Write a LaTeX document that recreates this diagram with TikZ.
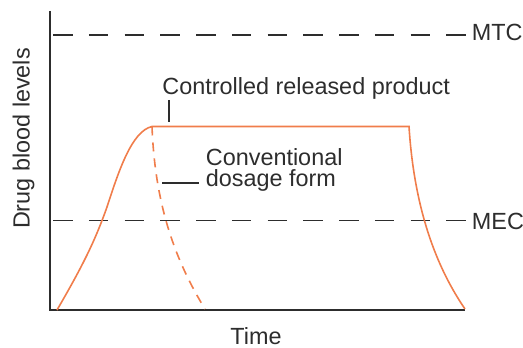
\documentclass[tikz,border=0pt]{standalone}
\usepackage{fontspec}
\setmainfont{Liberation Sans}
\definecolor{curveorange}{RGB}{240,125,75}
\definecolor{axisgray}{RGB}{45,45,45}

\begin{document}
\begin{tikzpicture}[x=0.5pt, y=-0.5pt,
    lbl/.style={inner sep=0pt, text=axisgray, font=\fontsize{11.7}{14}\selectfont},
    level/.style={axisgray, line width=0.75pt, dash pattern=on 9.75pt off 8.125pt},
    release/.style={curveorange, line width=0.8pt},
    leader/.style={axisgray, line width=0.75pt}]
    \useasboundingbox (0,0) rectangle (523,347);

    % Axes
    \draw[axisgray, line width=1pt] (49.5,11) -- (49.5,309.5) -- (465,309.5);
    \node[lbl, anchor=base, rotate=90] (ylab) at (29.5,138.5) {Drug blood levels};
    \node[lbl, anchor=base] (time) at (256,344) {Time};

    % Concentration limits
    \node[lbl, anchor=base west] (mtc) at (471.5,41) {MTC};
    \node[lbl, anchor=base west] (mec) at (471.5,229.5) {MEC};
    \coordinate (mtcstart) at (53,35);
    \coordinate (mtcend) at (466,35);
    \coordinate (mecstart) at (53,220.5);
    \coordinate (mecend) at (466,220.5);
    \draw[level] (mtcstart) -- (mtcend);
    \draw[level] (mecstart) -- (mecend);

    % Controlled release curve
    \draw[release] (57,310) .. controls (85,262) and (96,238) .. (107,207)
        .. controls (119,170) and (132,131) .. (152,126.5) -- (409,126.5)
        .. controls (413,190) and (428,255) .. (465,309);

    % Conventional dosage curve
    \draw[release, dash pattern=on 4.5pt off 3.5pt] (152,126.5)
        .. controls (155,205) and (175,260) .. (205,309);

    % Labels
    \node[lbl, anchor=base west] (crp) at (162,95) {Controlled released product};
    \node[lbl, anchor=base west] (conv) at (205.5,165) {Conventional};
    \node[lbl, anchor=base west] (dose) at (205.5,186) {dosage form};
    \coordinate (crptick) at (169,100);
    \coordinate (flattick) at (169,122);
    \coordinate (dashtick) at (162,183);
    \coordinate (dosetick) at (199,183);
    \draw[leader] (crptick) -- (flattick);
    \draw[leader] (dashtick) -- (dosetick);
\end{tikzpicture}
\end{document}
